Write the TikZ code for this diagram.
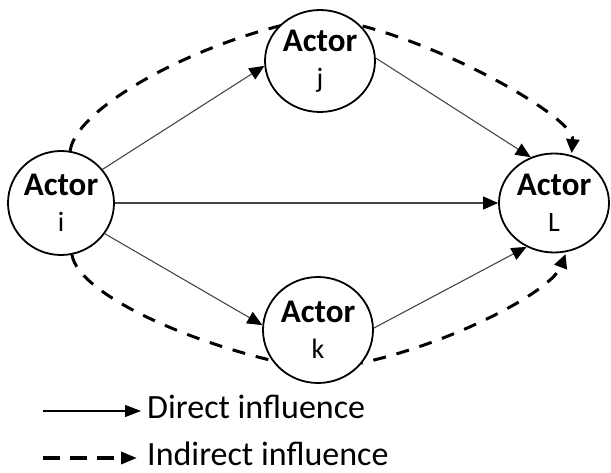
\documentclass[tikz,border=0pt]{standalone}
\usepackage{fontspec}
\setmainfont{Carlito}
\usetikzlibrary{arrows.meta,shapes.geometric,backgrounds}
\newcommand{\actortxt}[1]{{\fontsize{33}{36}\selectfont\bfseries Actor}\\{#1}}
\begin{document}
\begin{tikzpicture}[x=1pt,y=-1pt,
  actor/.style={draw=black, line width=1.8pt, fill=white, ellipse, inner sep=0pt, align=center,
    minimum width=110pt, minimum height=102pt, font=\fontsize{28}{36}\selectfont},
  direct/.style={draw=black!72, line width=1.1pt, -{Triangle[length=15pt,width=13pt,color=black]}},
  indirect/.style={draw=black, line width=3pt, dash pattern=on 13pt off 11pt,
    -{Triangle[length=14pt,width=13pt]}, shorten >=2pt},
  legdirect/.style={draw=black, line width=1.2pt, -{Triangle[length=16pt,width=12pt]}},
  legindirect/.style={draw=black, line width=3.5pt, dash pattern=on 17pt off 10pt,
    -{Triangle[length=16pt,width=12pt]}},
  legtext/.style={inner sep=0pt, anchor=base west, text depth=0pt, font=\fontsize{34}{34}\selectfont}]
\useasboundingbox (0,0) rectangle (611,473);

\node[actor, minimum width=106pt, minimum height=104pt] (i) at (61,203) {\actortxt{i}};
\node[actor] (j) at (320,61) {\actortxt{j}};
\node[actor, minimum height=106pt] (k) at (318,330) {\actortxt{k}};
\node[actor, minimum height=99pt] (L) at (554,203) {\actortxt{L}};

\coordinate (topmid) at (318,18);
\coordinate (botmid) at (318,370);

\begin{scope}[on background layer]
  \draw[indirect] (i.80) .. controls (76,105) and (210,35) .. (topmid)
                         .. controls (410,25) and (575,115) .. (L.70);
  \draw[indirect] (i.-78) .. controls (78,295) and (200,350) .. (botmid)
                          .. controls (420,360) and (550,295) .. (L.-76);
\end{scope}

\draw[direct] (i.39) -- (j.185);
\draw[direct] (i) -- (L);
\draw[direct] (i.-35) -- (k.175);
\draw[direct] (j.3) -- (L.117);
\draw[direct] (k.2) -- (L.238);

% legend
\node[legtext] (dtext) at (147,418) {Direct influence};
\node[legtext] (itext) at (147,465) {Indirect influence};
\coordinate (d1) at (43,411);
\coordinate (i1) at (43,458);
\draw[legdirect] (d1) -- ([xshift=-6pt]dtext.west |- d1);
\draw[legindirect] (i1) -- ([xshift=-10pt]itext.west |- i1);
\end{tikzpicture}
\end{document}
